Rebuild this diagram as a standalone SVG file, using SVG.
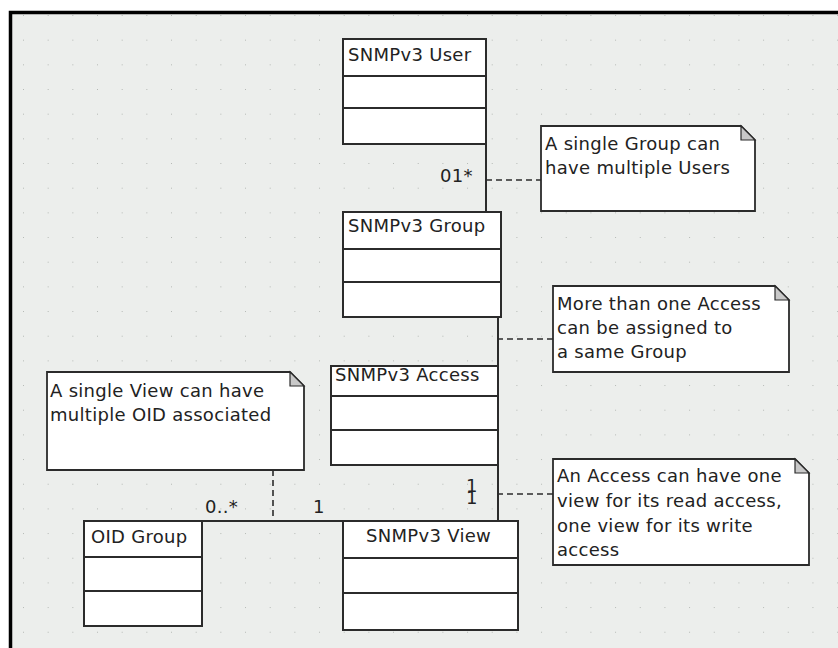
<svg xmlns="http://www.w3.org/2000/svg" width="838" height="648" viewBox="0 0 838 648">
  <defs>
    <pattern id="grid" x="23" y="15" width="24.67" height="24.67" patternUnits="userSpaceOnUse">
      <rect x="-1" y="-1" width="2" height="2" fill="#b4b8b4"/>
    </pattern>
    <style>
      .t { font-family: "DejaVu Sans", "Liberation Sans", sans-serif; font-size: 18px; fill: #222; letter-spacing: 0.3px; }
      .box { fill: #ffffff; stroke: #2b2b2b; stroke-width: 2; }
      .sep { stroke: #2b2b2b; stroke-width: 2; fill: none; }
      .note { fill: #ffffff; stroke: #2b2b2b; stroke-width: 1.8; stroke-linejoin: miter; }
      .fold { fill: #c8c8c8; stroke: #2b2b2b; stroke-width: 1.2; }
      .assoc { stroke: #2b2b2b; stroke-width: 2; fill: none; }
      .anchor { stroke: #2b2b2b; stroke-width: 1.6; stroke-dasharray: 6 4; fill: none; }
    </style>
  </defs>

  <!-- canvas and frame -->
  <rect x="0" y="0" width="838" height="648" fill="#ffffff"/>
  <rect x="11" y="13" width="827" height="635" fill="#eceeec"/>
  <rect x="11" y="13" width="827" height="635" fill="url(#grid)"/>
  <path d="M10.5 648 V12.5 H838" stroke="#000" stroke-width="3.5" fill="none"/>

  <!-- associations and note anchors -->
  <g id="connectors">
    <line class="assoc" x1="486" y1="144" x2="486" y2="212"/>
    <line class="assoc" x1="498" y1="317" x2="498" y2="366"/>
    <line class="assoc" x1="498" y1="465" x2="498" y2="521"/>
    <line class="assoc" x1="202" y1="521" x2="343" y2="521"/>
    <line class="anchor" x1="486" y1="180" x2="541" y2="180"/>
    <line class="anchor" x1="497" y1="339" x2="553" y2="339"/>
    <line class="anchor" x1="497" y1="494" x2="553" y2="494"/>
    <line class="anchor" x1="273" y1="470" x2="273" y2="520"/>
    <text class="t" x="440" y="182">01*</text>
    <text class="t" x="466" y="492">1</text>
    <text class="t" x="466" y="504">1</text>
    <text class="t" x="205" y="513">0..*</text>
    <text class="t" x="313" y="513">1</text>
  </g>

  <!-- classes -->
  <g id="snmpv3-user">
    <rect class="box" x="343" y="39" width="143" height="105"/>
    <path class="sep" d="M343 76 H486 M343 108 H486"/>
    <text class="t" x="348" y="61">SNMPv3 User</text>
  </g>
  <g id="snmpv3-group">
    <rect class="box" x="343" y="212" width="158" height="105"/>
    <path class="sep" d="M343 249 H501 M343 282 H501"/>
    <text class="t" x="348" y="232">SNMPv3 Group</text>
  </g>
  <g id="snmpv3-access">
    <rect class="box" x="331" y="366" width="167" height="99"/>
    <path class="sep" d="M331 396 H498 M331 430 H498"/>
    <text class="t" x="335" y="381">SNMPv3 Access</text>
  </g>
  <g id="snmpv3-view">
    <rect class="box" x="343" y="521" width="175" height="109"/>
    <path class="sep" d="M343 558 H518 M343 593 H518"/>
    <text class="t" x="366" y="542">SNMPv3 View</text>
  </g>
  <g id="oid-group">
    <rect class="box" x="84" y="521" width="118" height="105"/>
    <path class="sep" d="M84 557 H202 M84 591 H202"/>
    <text class="t" x="91" y="543">OID Group</text>
  </g>

  <!-- notes -->
  <g id="note-users">
    <path class="note" d="M541 126 H741 L755 140 V211 H541 Z"/>
    <path class="fold" d="M741 126 V140 H755 Z"/>
    <text class="t" x="545" y="150">A single Group can</text>
    <text class="t" x="545" y="174">have multiple Users</text>
  </g>
  <g id="note-access">
    <path class="note" d="M553 286 H775 L789 300 V372 H553 Z"/>
    <path class="fold" d="M775 286 V300 H789 Z"/>
    <text class="t" x="557" y="310">More than one Access</text>
    <text class="t" x="557" y="334">can be assigned to</text>
    <text class="t" x="557" y="358">a same Group</text>
  </g>
  <g id="note-view">
    <path class="note" d="M553 459 H795 L809 473 V565 H553 Z"/>
    <path class="fold" d="M795 459 V473 H809 Z"/>
    <text class="t" x="557" y="482">An Access can have one</text>
    <text class="t" x="557" y="507">view for its read access,</text>
    <text class="t" x="557" y="532">one view for its write</text>
    <text class="t" x="557" y="556">access</text>
  </g>
  <g id="note-oid">
    <path class="note" d="M47 372 H290 L304 386 V470 H47 Z"/>
    <path class="fold" d="M290 372 V386 H304 Z"/>
    <text class="t" x="50" y="397">A single View can have</text>
    <text class="t" x="50" y="421">multiple OID associated</text>
  </g>
</svg>
